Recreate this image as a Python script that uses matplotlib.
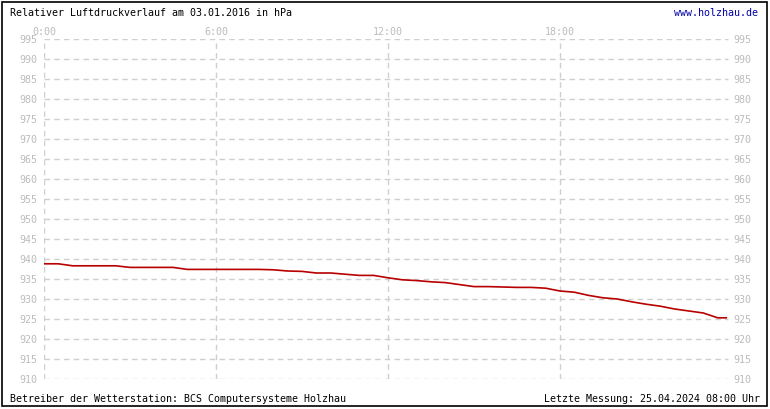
import matplotlib
matplotlib.use("Agg")
import matplotlib.pyplot as plt
from matplotlib.patches import Rectangle

hours = [0.0, 0.5, 1.0, 1.5, 2.0, 2.5, 3.0, 3.5, 4.0, 4.5, 5.0, 5.5, 6.0, 6.5,
         7.0, 7.5, 8.0, 8.5, 9.0, 9.5, 10.0, 10.5, 11.0, 11.5, 12.0, 12.5,
         13.0, 13.5, 14.0, 14.5, 15.0, 15.5, 16.0, 16.5, 17.0, 17.5, 18.0,
         18.5, 19.0, 19.5, 20.0, 20.5, 21.0, 21.5, 22.0, 22.5, 23.0, 23.5, 23.8]
pressure = [938.8, 938.8, 938.3, 938.3, 938.3, 938.3, 937.9, 937.9, 937.9, 937.9,
            937.4, 937.4, 937.4, 937.4, 937.4, 937.4, 937.3, 937.0, 936.9, 936.5,
            936.5, 936.2, 935.9, 935.9, 935.3, 934.8, 934.6, 934.3, 934.1, 933.6,
            933.1, 933.1, 933.0, 932.9, 932.9, 932.7, 932.0, 931.7, 930.9, 930.3,
            930.0, 929.3, 928.7, 928.2, 927.5, 927.0, 926.5, 925.3, 925.3]
y_ticks = list(range(910, 1000, 5))
x_ticks = [0, 6, 12, 18]
x_labels = ["0:00", "6:00", "12:00", "18:00"]

W, H = 770, 410
fig = plt.figure(figsize=(W / 100, H / 100), dpi=100)
fig.patch.set_facecolor("white")

# outer border
fig.add_artist(Rectangle((2 / W, 3 / H), 765 / W, 404 / H, transform=fig.transFigure,
                         fill=False, edgecolor="black", linewidth=1.2))

ax = fig.add_axes([44 / W, 30 / H, 688 / W, 340 / H])
ax.set_xlim(0, 24)
ax.set_ylim(910, 995)
for s in ax.spines.values():
    s.set_visible(False)
ax.set_xticks([])
ax.set_yticks([])

grid_c = "#cfcfcf"
gx_end = 23.85
for v in y_ticks:
    ax.plot([0, gx_end], [v, v], color=grid_c, lw=1, ls=(0, (4, 3)), zorder=1)
for h in x_ticks:
    ax.plot([h, h], [910, 995], color=grid_c, lw=1, ls=(0, (4, 3)), zorder=1)

ax.plot(hours, pressure, color="#b80000", lw=1.2, zorder=3)

mono = "DejaVu Sans Mono"
lab_c = "#bcbcbc"
fs = 7.2
for v in y_ticks:
    ax.text(-0.22, v, str(v), ha="right", va="center", color=lab_c, fontsize=fs,
            family=mono)
    ax.text(24.05, v, str(v), ha="left", va="center", color=lab_c, fontsize=fs,
            family=mono)
for h, l in zip(x_ticks, x_labels):
    ax.text(h, 996.9, l, ha="center", va="center", color=lab_c, fontsize=fs,
            family=mono)

fig.text(10 / W, 1 - 13 / H, "Relativer Luftdruckverlauf am 03.01.2016 in hPa",
         ha="left", va="center", fontsize=fs, family=mono, color="black")
fig.text(758 / W, 1 - 13 / H, "www.holzhau.de", ha="right", va="center",
         fontsize=fs, family=mono, color="#0000aa")
fig.text(10 / W, 1 - 399 / H, "Betreiber der Wetterstation: BCS Computersysteme Holzhau",
         ha="left", va="center", fontsize=fs, family=mono, color="black")
fig.text(760 / W, 1 - 399 / H, "Letzte Messung: 25.04.2024 08:00 Uhr",
         ha="right", va="center", fontsize=fs, family=mono, color="black")

fig.savefig("out.png", dpi=100, facecolor="white")
